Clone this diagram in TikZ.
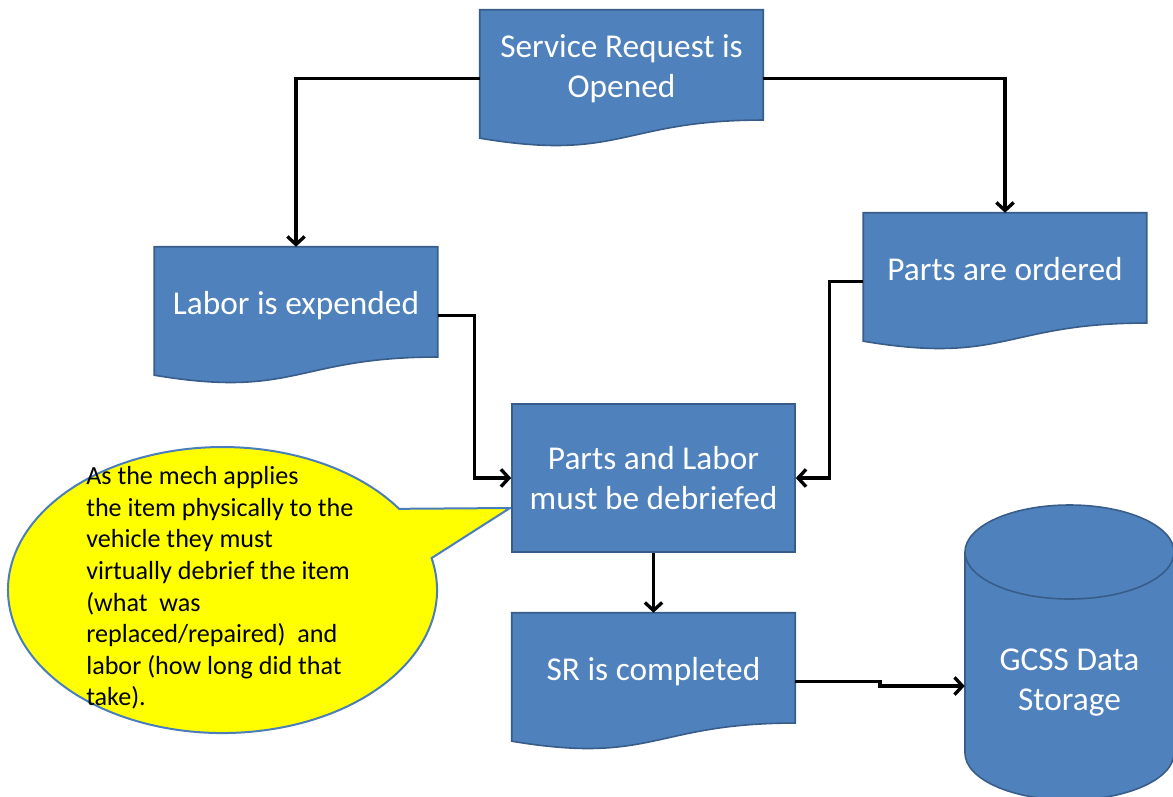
\documentclass[tikz,border=0pt]{standalone}
\usepackage{fontspec}
\setmainfont{Carlito}
\usetikzlibrary{calc,backgrounds,arrows.meta}

\definecolor{boxblue}{HTML}{4F81BD}
\definecolor{boxedge}{HTML}{385D8A}
\definecolor{noteyellow}{HTML}{FFFF00}
\definecolor{noteedge}{HTML}{4A7EBB}

\tikzset{
    docbox/.style={rectangle, inner sep=0pt, minimum width=283*0.75pt,
        minimum height=137*0.75pt, text=white, align=center,
        font=\fontsize{25}{30}\selectfont, text depth=18.5pt},
    plainbox/.style={rectangle, draw=boxedge, fill=boxblue, line width=1.2pt,
        inner sep=0pt, minimum width=283*0.75pt, minimum height=148*0.75pt,
        text=white, align=center, font=\fontsize{25}{30}\selectfont},
    boxfill/.style={draw=boxedge, fill=boxblue, line width=1.2pt},
    dbtext/.style={inner sep=0pt, minimum width=209*0.75pt, text=white,
        align=center, font=\fontsize{25}{30}\selectfont, text depth=9.5pt},
    notetext/.style={anchor=west, inner sep=0pt, align=left,
        font=\fontsize{19.6}{23.7}\selectfont},
    flow/.style={line width=2.5pt, -{Straight Barb[length=6pt,width=13pt]}}
}

\begin{document}
\begin{tikzpicture}[x=0.75pt, y=-0.75pt]
    \useasboundingbox (0,0) rectangle (1173,796);

    % Callout balloon
    \filldraw[fill=noteyellow, draw=noteedge, line width=1.5pt]
        (431.6,558.1) arc[start angle=-12.9, end angle=325.4, x radius=214.5, y radius=143]
        -- (510,508) -- cycle;
    \node[notetext] (note) at (86,588) {As the mech applies\\
        the item physically to the\\
        vehicle they must\\
        virtually debrief the item\\
        (what~~was\\
        replaced/repaired)~~and\\
        labor (how long did that\\
        take).};

    % Steps
    \node[docbox] (open) at (621.5,78.5) {Service Request is\\Opened};
    \node[docbox] (labor) at (296,315.5) {Labor is expended};
    \node[docbox] (parts) at (1005,281.5) {Parts are ordered};
    \node[plainbox] (debrief) at (653.5,478) {Parts and Labor\\must be debriefed};
    \node[docbox] (done) at (653.5,681.5) {SR is completed};

    % Document outlines (wavy bottom) behind the text
    \begin{scope}[on background layer]
        \foreach \b in {open,labor,parts,done} {
            \filldraw[boxfill] (\b.north west) -- (\b.north east)
                -- ($(\b.north east)!0.802!(\b.south east)$)
                .. controls ($(\b.north)!0.802!(\b.south)$) and ($(\b.north)!1.107!(\b.south)$)
                .. ($(\b.north west)!0.934!(\b.south west)$) -- cycle;
        }
    \end{scope}

    % Data storage cylinder
    \filldraw[boxfill] (965,552) -- (965,753)
        arc[start angle=180, end angle=0, x radius=104.5, y radius=47]
        -- (1174,552)
        arc[start angle=0, end angle=-180, x radius=104.5, y radius=47] -- cycle;
    \draw[boxedge, line width=1.2pt] (965,552)
        arc[start angle=180, end angle=0, x radius=104.5, y radius=47];
    \node[dbtext] (store) at (1069.5,686) {GCSS Data\\Storage};

    % Connectors
    \draw[flow] (open.west) -| (labor.north);
    \draw[flow] (open.east) -| (parts.north);
    \draw[flow] (labor.east) -| ($(labor.east)!0.5!(debrief.west)$) |- (debrief.west);
    \draw[flow] (parts.west) -| ($(parts.west)!0.5!(debrief.east)$) |- (debrief.east);
    \draw[flow] (debrief.south) -- (done.north);
    \draw[flow] (done.east) -| ($(done.east)!0.5!(store.west)$) |- (store.west);

\end{tikzpicture}
\end{document}
